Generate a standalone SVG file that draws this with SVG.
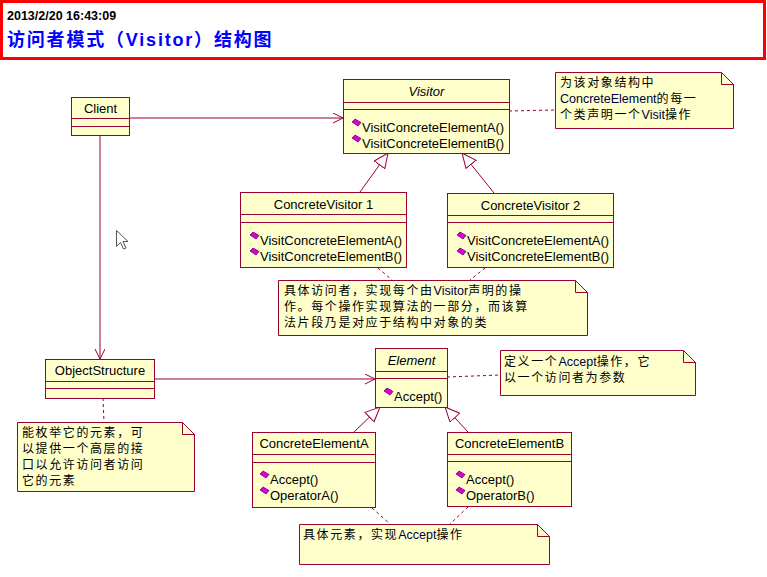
<svg xmlns="http://www.w3.org/2000/svg" width="767" height="577" viewBox="0 0 767 577">
<style>
.box{fill:#FFFFCC;stroke:#990033;stroke-width:1}
.ln{stroke:#990033;stroke-width:1;fill:none}
.dash{stroke:#990033;stroke-width:1;fill:none;stroke-dasharray:3,3}
.t{font-family:"Liberation Sans",Arial,sans-serif;font-size:13px;fill:#000}
.c{text-anchor:middle}
.it{font-style:italic}
.n{font-family:"Liberation Sans","Noto Sans CJK SC",sans-serif;font-size:12px;fill:#000}
.cj{letter-spacing:1.6px}
.lat{fill:#000040;font-size:12.5px}
</style>
<defs>
<marker id="open" markerUnits="userSpaceOnUse" markerWidth="12" markerHeight="12" refX="10" refY="5" orient="auto">
<path d="M0,0 L10,5 L0,10" fill="none" stroke="#990033" stroke-width="1"/>
</marker>
<marker id="gen" markerUnits="userSpaceOnUse" markerWidth="18" markerHeight="16" refX="15" refY="7" orient="auto">
<path d="M0.5,0.5 L15,7 L0.5,13.5 Z" fill="#FFFFFF" stroke="#990033" stroke-width="1"/>
</marker>
<g id="icon">
<polygon points="0,3 3,0 9,3.5 6,7" fill="#DD00DD" stroke="#660066" stroke-width="0.8"/>
</g>
</defs>
<rect width="767" height="577" fill="#FFFFFF"/>
<g id="header">
<rect x="1.5" y="1.5" width="763" height="57" fill="#FFFFFF" stroke="#FF0000" stroke-width="3"/>
<text x="7" y="20" font-family="'Liberation Sans',Arial,sans-serif" font-size="12.5" font-weight="bold" fill="#000">2013/2/20 16:43:09</text>
<text x="7" y="46" font-family="'Liberation Sans','Noto Sans CJK SC',sans-serif" font-size="18" font-weight="bold" fill="#0000FF" letter-spacing="1.8">访问者模式（Visitor）结构图</text>
</g>
<g id="connectors">
<line class="ln" x1="130" y1="118" x2="343" y2="118" marker-end="url(#open)"/>
<line class="ln" x1="100" y1="136" x2="100" y2="359" marker-end="url(#open)"/>
<line class="ln" x1="154" y1="379" x2="375" y2="379" marker-end="url(#open)"/>
<line class="ln" x1="360" y1="192" x2="388" y2="153" marker-end="url(#gen)"/>
<line class="ln" x1="494" y1="193" x2="462" y2="153" marker-end="url(#gen)"/>
<line class="ln" x1="354" y1="432" x2="380" y2="407" marker-end="url(#gen)"/>
<line class="ln" x1="468" y1="432" x2="445" y2="407" marker-end="url(#gen)"/>
<line class="dash" x1="509" y1="111" x2="555" y2="110"/>
<line class="dash" x1="378" y1="268" x2="392" y2="280"/>
<line class="dash" x1="485" y1="268" x2="470" y2="280"/>
<line class="dash" x1="447" y1="377" x2="500" y2="375"/>
<line class="dash" x1="103" y1="398" x2="104" y2="422"/>
<line class="dash" x1="372" y1="508" x2="390" y2="524"/>
<line class="dash" x1="468" y1="507" x2="450" y2="524"/>
</g>
<g id="client">
<rect class="box" x="71.5" y="97.5" width="58" height="38"/>
<line class="ln" x1="71.5" y1="118.5" x2="129.5" y2="118.5"/>
<line class="ln" x1="71.5" y1="126.5" x2="129.5" y2="126.5"/>
<text class="t c" x="100.5" y="113">Client</text>
</g>
<g id="visitor">
<rect class="box" x="343.5" y="79.5" width="166" height="74"/>
<line class="ln" x1="343.5" y1="102.5" x2="509.5" y2="102.5"/>
<line class="ln" x1="343.5" y1="109.5" x2="509.5" y2="109.5"/>
<text class="t c it" x="426.5" y="96">Visitor</text>
<use href="#icon" x="352" y="119"/>
<text class="t" x="362" y="132">VisitConcreteElementA()</text>
<use href="#icon" x="352" y="135"/>
<text class="t" x="362" y="148">VisitConcreteElementB()</text>
</g>
<g id="note-visitor">
<path class="box" d="M555.5,72.5 H721.5 L733.5,84.5 V128.5 H555.5 Z"/>
<path class="ln" d="M721.5,72.5 V84.5 H733.5"/>
<text class="n" x="560" y="87"><tspan class="cj">为该对象结构中</tspan></text>
<text class="n" x="560" y="103"><tspan class="lat">ConcreteElement</tspan><tspan class="cj">的每一</tspan></text>
<text class="n" x="560" y="119"><tspan class="cj">个类声明一个</tspan><tspan class="lat">Visit</tspan><tspan class="cj">操作</tspan></text>
</g>
<g id="concrete-visitor-1">
<rect class="box" x="240.5" y="192.5" width="166" height="75"/>
<line class="ln" x1="240.5" y1="214.5" x2="406.5" y2="214.5"/>
<line class="ln" x1="240.5" y1="222.5" x2="406.5" y2="222.5"/>
<text class="t c" x="323.5" y="209">ConcreteVisitor 1</text>
<use href="#icon" x="250" y="232"/>
<text class="t" x="260" y="245">VisitConcreteElementA()</text>
<use href="#icon" x="250" y="248"/>
<text class="t" x="260" y="261">VisitConcreteElementB()</text>
</g>
<g id="concrete-visitor-2">
<rect class="box" x="447.5" y="193.5" width="166" height="74"/>
<line class="ln" x1="447.5" y1="215.5" x2="613.5" y2="215.5"/>
<line class="ln" x1="447.5" y1="222.5" x2="613.5" y2="222.5"/>
<text class="t c" x="530.5" y="210">ConcreteVisitor 2</text>
<use href="#icon" x="457" y="232"/>
<text class="t" x="467" y="245">VisitConcreteElementA()</text>
<use href="#icon" x="457" y="248"/>
<text class="t" x="467" y="261">VisitConcreteElementB()</text>
</g>
<g id="note-concrete-visitor">
<path class="box" d="M278.5,280.5 H575.5 L587.5,292.5 V335.5 H278.5 Z"/>
<path class="ln" d="M575.5,280.5 V292.5 H587.5"/>
<text class="n" x="284" y="295"><tspan class="cj">具体访问者，实现每个由</tspan><tspan class="lat">Visitor</tspan><tspan class="cj">声明的操</tspan></text>
<text class="n" x="284" y="311"><tspan class="cj">作。每个操作实现算法的一部分，而该算</tspan></text>
<text class="n" x="284" y="327"><tspan class="cj">法片段乃是对应于结构中对象的类</tspan></text>
</g>
<g id="object-structure">
<rect class="box" x="45.5" y="359.5" width="109" height="39"/>
<line class="ln" x1="45.5" y1="381.5" x2="154.5" y2="381.5"/>
<line class="ln" x1="45.5" y1="388.5" x2="154.5" y2="388.5"/>
<text class="t c" x="100" y="375">ObjectStructure</text>
</g>
<g id="note-object-structure">
<path class="box" d="M17.5,422.5 H182.5 L194.5,434.5 V491.5 H17.5 Z"/>
<path class="ln" d="M182.5,422.5 V434.5 H194.5"/>
<text class="n" x="22" y="437"><tspan class="cj">能枚举它的元素，可</tspan></text>
<text class="n" x="22" y="453"><tspan class="cj">以提供一个高层的接</tspan></text>
<text class="n" x="22" y="469"><tspan class="cj">口以允许访问者访问</tspan></text>
<text class="n" x="22" y="485"><tspan class="cj">它的元素</tspan></text>
</g>
<g id="element">
<rect class="box" x="375.5" y="348.5" width="72" height="59"/>
<line class="ln" x1="375.5" y1="371.5" x2="447.5" y2="371.5"/>
<line class="ln" x1="375.5" y1="378.5" x2="447.5" y2="378.5"/>
<text class="t c it" x="411.5" y="365">Element</text>
<use href="#icon" x="384" y="388"/>
<text class="t" x="394" y="401">Accept()</text>
</g>
<g id="note-element">
<path class="box" d="M500.5,350.5 H683.5 L695.5,362.5 V395.5 H500.5 Z"/>
<path class="ln" d="M683.5,350.5 V362.5 H695.5"/>
<text class="n" x="504" y="366"><tspan class="cj">定义一个</tspan><tspan class="lat">Accept</tspan><tspan class="cj">操作，它</tspan></text>
<text class="n" x="504" y="382"><tspan class="cj">以一个访问者为参数</tspan></text>
</g>
<g id="concrete-element-a">
<rect class="box" x="252.5" y="432.5" width="123" height="75"/>
<line class="ln" x1="252.5" y1="454.5" x2="375.5" y2="454.5"/>
<line class="ln" x1="252.5" y1="462.5" x2="375.5" y2="462.5"/>
<text class="t c" x="314" y="448">ConcreteElementA</text>
<use href="#icon" x="260" y="471"/>
<text class="t" x="270" y="484">Accept()</text>
<use href="#icon" x="260" y="487"/>
<text class="t" x="270" y="500">OperatorA()</text>
</g>
<g id="concrete-element-b">
<rect class="box" x="447.5" y="432.5" width="124" height="74"/>
<line class="ln" x1="447.5" y1="454.5" x2="571.5" y2="454.5"/>
<line class="ln" x1="447.5" y1="461.5" x2="571.5" y2="461.5"/>
<text class="t c" x="509.5" y="448">ConcreteElementB</text>
<use href="#icon" x="456" y="471"/>
<text class="t" x="466" y="484">Accept()</text>
<use href="#icon" x="456" y="487"/>
<text class="t" x="466" y="500">OperatorB()</text>
</g>
<g id="note-concrete-element">
<path class="box" d="M299.5,524.5 H537.5 L549.5,536.5 V564.5 H299.5 Z"/>
<path class="ln" d="M537.5,524.5 V536.5 H549.5"/>
<text class="n" x="303" y="539"><tspan class="cj">具体元素，实现</tspan><tspan class="lat">Accept</tspan><tspan class="cj">操作</tspan></text>
</g>
<g id="cursor">
<polygon points="116.5,230.5 116.5,246.5 120.5,242.5 123.5,249 126,248 123,241.5 128,241.5" fill="#FFFFFF" stroke="#555555" stroke-width="1"/>
</g>
</svg>
